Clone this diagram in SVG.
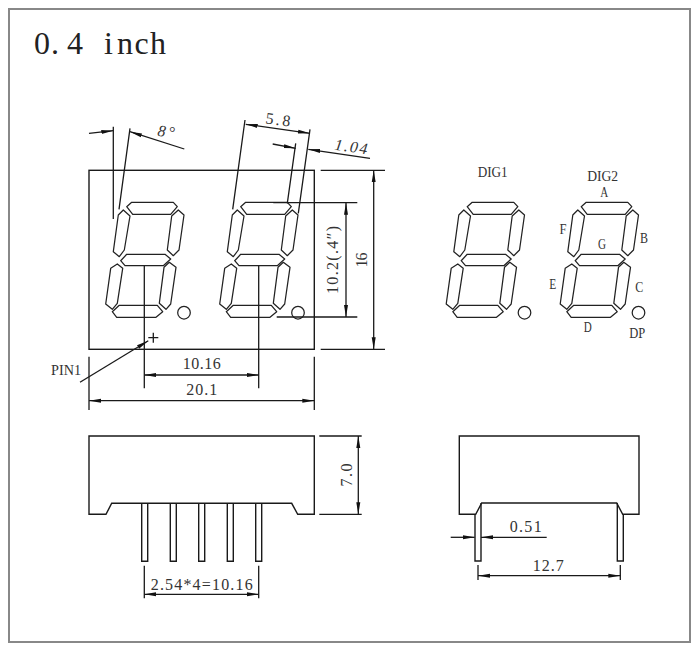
<svg xmlns="http://www.w3.org/2000/svg" xmlns:xlink="http://www.w3.org/1999/xlink" width="700" height="650" viewBox="0 0 700 650">
<style>
.l{fill:none;stroke:#1a1a1a;stroke-width:1.3}
.a{fill:none;stroke:#1a1a1a;stroke-width:1.3;marker-end:url(#ah)}
.aa{fill:none;stroke:#1a1a1a;stroke-width:1.3;marker-start:url(#ah);marker-end:url(#ah)}
.s{fill:#fff;stroke:#222;stroke-width:1.25;stroke-linejoin:round}
.b{fill:#fff;stroke:#1a1a1a;stroke-width:1.4}
text{font-family:"Liberation Serif",serif;fill:#333;font-size:16px;text-anchor:middle}
.sm{font-size:15px}
.it{font-style:italic}
</style>
<defs>
<marker id="ah" markerUnits="userSpaceOnUse" markerWidth="14" markerHeight="6" refX="12" refY="3" orient="auto-start-reverse"><path d="M0 1L12 3L0 5Z" fill="#111"/></marker>
<g id="digit">
<polygon class="s" points="126.7,206.7 131.7,202.3 173.3,202.3 177.3,206.7 170.7,214.3 132.7,214.3"/>
<polygon class="s" points="123.3,210 130,216 124.3,250 119.3,256.7 113.3,251.7 118.3,215"/>
<polygon class="s" points="178.3,210 184,215 179,250 173.3,255.7 167.3,250 171.7,216"/>
<polygon class="s" points="120.7,260.7 126.7,254.3 165,254.3 170.7,259 163.3,265.7 125,265.7"/>
<polygon class="s" points="117.3,264 122.7,268.3 117.3,303.3 112.3,309.3 105.7,304 110.7,268.3"/>
<polygon class="s" points="169.3,262.3 176,267.3 170.7,304 166,309.3 159.3,303.3 164,267.3"/>
<polygon class="s" points="112.3,311.7 119.3,305.3 157.3,305.3 162.7,311.7 156,317.3 116.7,317.3"/>
<circle class="s" cx="184" cy="312.7" r="6.3"/>
</g>
</defs>
<rect width="700" height="650" fill="#fff"/>
<rect id="frame" x="9" y="9" width="681" height="633" fill="none" stroke="#888" stroke-width="2"/>
<text id="title" x="34 51 67 83 104 117 134.5 150" y="53.5" style="font-size:32px;text-anchor:start;fill:#222">0.4 inch</text>

<g id="front-view">
<rect class="b" x="89" y="170.3" width="225.3" height="179"/>
<use xlink:href="#digit" href="#digit"/>
<use xlink:href="#digit" href="#digit" x="114"/>
</g>

<g id="connectors">
<path class="l" d="M113.3 126.7V219M130 128.3L119 209.3M245 120L232.7 209.3M310 129.3L298.3 213.3M295.7 143.3L287.3 203.3"/>
<path class="a" d="M89 133.3L113.3 130.7"/>
<path class="a" d="M184.3 149L130 131.7"/>
<path class="aa" d="M245.7 124.3L310 133.3"/>
<path class="a" d="M272.7 144L295.7 148.3"/>
<path class="a" d="M370 158.3L308.3 149.3"/>
<path class="l" d="M273.3 202.7H357.3M276.7 317H357.3M320.7 170.3H385M320.7 349.3H385"/>
<path class="aa" d="M346 202.7V317"/>
<path class="aa" d="M373.7 170.3V349.3"/>
<path class="l" d="M144.3 265.7V388.3M258.7 265.7V388.3M89 356.7V410M314.3 356.7V410"/>
<path class="aa" d="M144.3 375H258.7"/>
<path class="aa" d="M89 400.7H314.3"/>
<path class="a" d="M80 382.3L148.3 340.7"/>
<path class="l" d="M148.3 337.7H158.3M153.3 332.7V342.7"/>
<path class="l" d="M319.3 436H361.7M319.3 514.3H361.7"/>
<path class="aa" d="M358.3 436V514.3"/>
<path class="l" d="M144.3 565.7V598.3M258.7 565.7V598.3"/>
<path class="aa" d="M144.3 594.3H258.7"/>
<path class="a" d="M450.7 537.3H474.7"/>
<path class="a" d="M546.7 537.3H481"/>
<path class="l" d="M478 565V580M620.3 565V580"/>
<path class="aa" d="M478 575.7H620.3"/>
</g>

<g id="right-digits">
<use xlink:href="#digit" href="#digit" x="340.5"/>
<use xlink:href="#digit" href="#digit" x="454.5"/>
</g>

<g id="side-view-left">
<path class="b" d="M141.7 503.3h6v58h-6zM170.3 503.3h6v58h-6zM198.7 503.3h6v58h-6zM227.3 503.3h6v58h-6zM255.7 503.3h6v58h-6z"/>
<path class="b" d="M89 436H314.3V514.3H297.7L291.7 503.3H111.7L106 514.3H89Z"/>
</g>
<g id="side-view-right">
<path class="b" d="M475 514.3V561H481V503M617.3 503L617.3 561H623.3V514.3"/>
<path class="b" style="fill:none" d="M459.3 436H639V514.3H622.7L616.7 503H481.7L475.7 514.3H459.3Z"/>
</g>

<g id="labels" lengthAdjust="spacingAndGlyphs">
<text class="it" x="166" y="137" transform="rotate(8 167 132)" textLength="17">8°</text>
<text x="278" y="125" transform="rotate(8 278 120)" textLength="25">5.8</text>
<text class="it" x="351" y="152" transform="rotate(8 351 147)" textLength="33">1.04</text>
<text x="333" y="265" transform="rotate(-90 333 260)" textLength="68">10.2(.4″)</text>
<text x="361.7" y="265" transform="rotate(-90 361.7 260)" textLength="15">16</text>
<text x="201.7" y="368.5" textLength="38">10.16</text>
<text x="201.7" y="394.5" textLength="31">20.1</text>
<text class="sm" x="66" y="375" textLength="30" lengthAdjust="spacingAndGlyphs">PIN1</text>
<text x="346.7" y="480" transform="rotate(-90 346.7 475)" textLength="23">7.0</text>
<text x="201.7" y="589.5" textLength="102">2.54*4=10.16</text>
<text x="525.7" y="532" textLength="32">0.51</text>
<text x="548.3" y="571" textLength="31">12.7</text>
<text class="sm" x="492.7" y="177" textLength="30" lengthAdjust="spacingAndGlyphs">DIG1</text>
<text class="sm" x="602.7" y="180.5" textLength="31" lengthAdjust="spacingAndGlyphs">DIG2</text>
<text class="sm" x="604.3" y="196.5" textLength="8" lengthAdjust="spacingAndGlyphs">A</text>
<text class="sm" x="563" y="234" textLength="7" lengthAdjust="spacingAndGlyphs">F</text>
<text class="sm" x="644" y="242.5" textLength="8" lengthAdjust="spacingAndGlyphs">B</text>
<text class="sm" x="602" y="249" textLength="8" lengthAdjust="spacingAndGlyphs">G</text>
<text class="sm" x="552.7" y="289" textLength="7" lengthAdjust="spacingAndGlyphs">E</text>
<text class="sm" x="639.3" y="291.5" textLength="8" lengthAdjust="spacingAndGlyphs">C</text>
<text class="sm" x="587.7" y="332" textLength="8" lengthAdjust="spacingAndGlyphs">D</text>
<text class="sm" x="637.3" y="337.5" textLength="16" lengthAdjust="spacingAndGlyphs">DP</text>
</g>
</svg>
